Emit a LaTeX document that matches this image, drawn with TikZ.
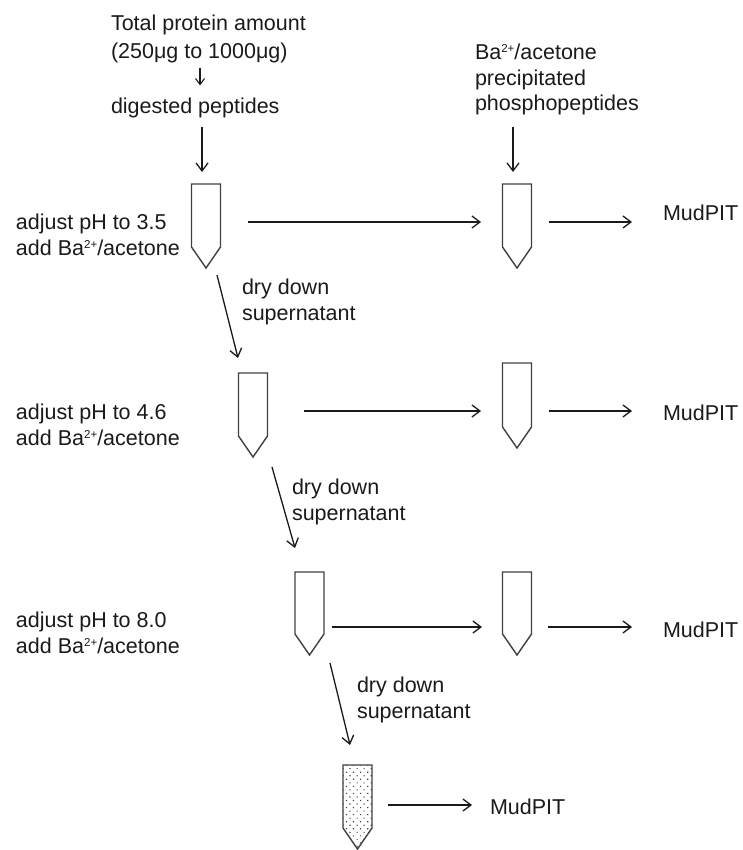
\documentclass[tikz,border=0pt]{standalone}
\usepackage{fontspec}
\setmainfont{Liberation Sans}
\usetikzlibrary{arrows.meta,patterns.meta}
\definecolor{ink}{HTML}{1A1A1A}
\definecolor{tubeink}{HTML}{404040}
\tikzset{
  lbl/.style={inner sep=0pt, outer sep=0pt, anchor=base west, align=left, text=ink,
    font=\fontsize{21.5pt}{25.5pt}\selectfont},
  tubebox/.style={minimum width=29pt, minimum height=84pt, inner sep=0pt, outer sep=0pt},
  outline/.style={draw=tubeink, line width=1.4pt, line join=miter},
  arr/.style={draw=ink, line width=1.3pt, -{Straight Barb[length=8pt,width=12pt]}},
  arrsmall/.style={draw=ink, line width=1.1pt, -{Straight Barb[length=6pt,width=9pt]}},
  stipple/.style={pattern={Dots[radius=0.8pt,distance=5pt,angle=45]}, pattern color=black!75},
}
% small raised charge, top level with the capitals
\newcommand{\chg}[1]{\raisebox{7pt}{\fontsize{11.5pt}{11.5pt}\selectfont #1}}
% conical tube outline drawn around a tube node
\newcommand{\tubepath}[2][]{%
  \draw[outline,#1] (#2.north west) -- (#2.north east) -- ([yshift=21pt]#2.south east)
    -- (#2.south) -- ([yshift=21pt]#2.south west) -- cycle;}
\begin{document}
\begin{tikzpicture}[x=1pt,y=-1pt]
\useasboundingbox (0,0) rectangle (742,850);

% texts (multi-line labels are placed by the baseline of their last line)
\node[lbl] (src) at (111,58.5) {Total protein amount\\[2.5pt](250μg to 1000μg)};
\node[lbl] (dig) at (111,114) {digested peptides};
\node[lbl] (bap) at (475,111) {Ba\chg{2+}/acetone\\precipitated\\phosphopeptides};

\node[lbl] (c1) at (16,255) {adjust pH to 3.5\\add Ba\chg{2+}/acetone};
\node[lbl] (c2) at (16,445) {adjust pH to 4.6\\add Ba\chg{2+}/acetone};
\node[lbl] (c3) at (16,653) {adjust pH to 8.0\\add Ba\chg{2+}/acetone};

\node[lbl] (s1) at (242,320) {dry down\\supernatant};
\node[lbl] (s2) at (292,520) {dry down\\supernatant};
\node[lbl] (s3) at (357,718) {dry down\\supernatant};

\node[lbl] (m1) at (663,221) {MudPIT};
\node[lbl] (m2) at (663,420) {MudPIT};
\node[lbl] (m3) at (663,637) {MudPIT};
\node[lbl] (m4) at (490,814) {MudPIT};

% tubes
\node[tubebox] (t1) at (206,226) {};
\node[tubebox] (r1) at (517,226) {};
\node[tubebox] (t2) at (253,415) {};
\node[tubebox, minimum height=85pt] (r2) at (517,405.5) {};
\node[tubebox, minimum height=83pt] (t3) at (309.5,613.5) {};
\node[tubebox, minimum height=83pt] (r3) at (517,613.5) {};
\node[tubebox] (t4) at (357.5,807) {};
\tubepath{t1}
\tubepath{r1}
\tubepath{t2}
\tubepath{r2}
\tubepath{t3}
\tubepath{r3}
\tubepath[stipple]{t4}

% rows and columns of the straight connectors
\coordinate (h1) at (0,222);
\coordinate (h2) at (0,411);
\coordinate (h3) at (0,627);
\coordinate (h4) at (0,805);
\coordinate (v0) at (200,0);
\coordinate (v1) at (202,0);
\coordinate (v2) at (513,0);

% inputs
\draw[arrsmall, shorten <=5pt, shorten >=13pt] (src.south -| v0) -- (dig.north -| v0);
\draw[arr, shorten <=8.5pt, shorten >=12pt] (dig.south -| v1) -- (t1.north -| v1);
\draw[arr, shorten <=11.5pt, shorten >=12pt] (bap.south -| v2) -- (r1.north -| v2);

% precipitates to MudPIT
\draw[arr, shorten <=27.5pt, shorten >=21.5pt] (t1.east |- h1) -- (r1.west |- h1);
\draw[arr, shorten <=17.5pt, shorten >=31pt] (r1.east |- h1) -- (m1.west |- h1);
\draw[arr, shorten <=36.5pt, shorten >=21.5pt] (t2.east |- h2) -- (r2.west |- h2);
\draw[arr, shorten <=17.5pt, shorten >=31pt] (r2.east |- h2) -- (m2.west |- h2);
\draw[arr, shorten <=7.5pt, shorten >=20.5pt] (t3.east |- h3) -- (r3.west |- h3);
\draw[arr, shorten <=16.5pt, shorten >=31pt] (r3.east |- h3) -- (m3.west |- h3);
\draw[arr, shorten <=16pt, shorten >=18pt] (t4.east |- h4) -- (m4.west |- h4);

% supernatant transfers
\draw[arr] ([xshift=11pt,yshift=-7pt]t1.south) -- ([xshift=-15pt,yshift=15pt]t2.north);
\draw[arr] ([xshift=19pt,yshift=-10pt]t2.south) -- ([xshift=-14.5pt,yshift=24pt]t3.north);
\draw[arr] ([xshift=20.5pt,yshift=-8pt]t3.south) -- ([xshift=-7.5pt,yshift=20pt]t4.north);
\end{tikzpicture}
\end{document}
